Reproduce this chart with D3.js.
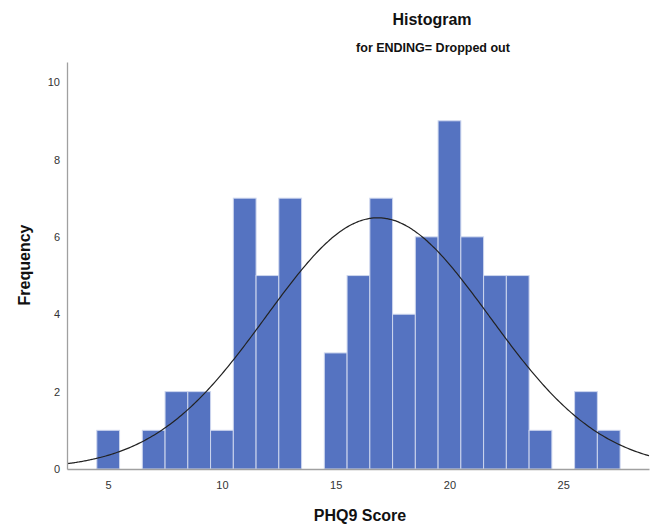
<!DOCTYPE html>
<html>
<head>
<meta charset="utf-8">
<script src="https://cdn.jsdelivr.net/npm/d3@7"></script>
<style>
  html, body { margin: 0; padding: 0; background: #fff; }
  svg { display: block; font-family: "Liberation Sans", Arial, sans-serif; }
</style>
</head>
<body>
<svg id="chart" width="660" height="527"></svg>
<script>
// PHQ9 scores (bin centres, width 1) and their frequencies
const scores      = [5, 6, 7, 8, 9, 10, 11, 12, 13, 14, 15, 16, 17, 18, 19, 20, 21, 22, 23, 24, 25, 26, 27];
const frequencies = [1, 0, 1, 2, 2, 1, 7, 5, 7, 0, 3, 5, 7, 4, 6, 9, 6, 5, 5, 1, 0, 2, 1];
const xTicks = [5, 10, 15, 20, 25];
const yTicks = [0, 2, 4, 6, 8, 10];

const titleText = "Histogram";
const subtitleText = "for ENDING= Dropped out";
const xTitle = "PHQ9 Score";
const yTitle = "Frequency";

const svg = d3.select("#chart");
const plot = { left: 67, right: 649, top: 62, bottom: 469 };

const x = d3.scaleLinear().domain([3.19, 28.77]).range([plot.left, plot.right]);
const y = d3.scaleLinear().domain([0, 10.52]).range([plot.bottom, plot.top]);

// Bars
const bins = scores.map((s, i) => ({ x0: s - 0.5, x1: s + 0.5, n: frequencies[i] })).filter(d => d.n > 0);
svg.append("g").selectAll("rect").data(bins).join("rect")
  .attr("x", d => x(d.x0))
  .attr("y", d => y(d.n))
  .attr("width", d => x(d.x1) - x(d.x0))
  .attr("height", d => y(0) - y(d.n))
  .attr("fill", "#5573c1")
  .attr("stroke", "#cdd6ee")
  .attr("stroke-width", 1);

// Normal curve from the sample mean and standard deviation
const N = d3.sum(frequencies);
const mean = d3.sum(scores, (s, i) => s * frequencies[i]) / N;
const variance = d3.sum(scores, (s, i) => frequencies[i] * (s - mean) ** 2) / (N - 1);
const sd = Math.sqrt(variance);
const binWidth = 1;
const [dx0, dx1] = x.domain();
const curvePts = d3.range(0, 301).map(k => {
  const v = dx0 + (dx1 - dx0) * k / 300;
  return [v, N * binWidth / (sd * Math.sqrt(2 * Math.PI)) * Math.exp(-((v - mean) ** 2) / (2 * variance))];
});
svg.append("path")
  .datum(curvePts)
  .attr("fill", "none")
  .attr("stroke", "#222")
  .attr("stroke-width", 1.2)
  .attr("d", d3.line().x(d => x(d[0])).y(d => y(d[1])).curve(d3.curveBasis));

// Axes
const xAxis = svg.append("g").attr("transform", `translate(0,${plot.bottom})`)
  .call(d3.axisBottom(x).tickValues(xTicks).tickSize(0).tickPadding(12));
const yAxis = svg.append("g").attr("transform", `translate(${plot.left},0)`)
  .call(d3.axisLeft(y).tickValues(yTicks).tickSize(0).tickPadding(7));
[xAxis, yAxis].forEach(g => {
  g.select(".domain").attr("stroke", "#a0a0a0").attr("stroke-width", 1.3);
  g.selectAll("text").attr("font-size", 11).attr("fill", "#333")
    .attr("font-family", "'Liberation Sans', Arial, sans-serif");
});

// Titles
svg.append("text").attr("x", 432).attr("y", 25).attr("text-anchor", "middle")
  .attr("font-size", 16).attr("font-weight", "bold").attr("fill", "#111").text(titleText);
svg.append("text").attr("x", 433).attr("y", 52).attr("text-anchor", "middle")
  .attr("font-size", 12.5).attr("font-weight", "bold").attr("fill", "#111").text(subtitleText);
svg.append("text").attr("x", 360).attr("y", 521).attr("text-anchor", "middle")
  .attr("font-size", 16).attr("font-weight", "bold").attr("fill", "#111").text(xTitle);
svg.append("text").attr("transform", "translate(30,265) rotate(-90)").attr("text-anchor", "middle")
  .attr("font-size", 16).attr("font-weight", "bold").attr("fill", "#111").text(yTitle);
</script>
</body>
</html>
